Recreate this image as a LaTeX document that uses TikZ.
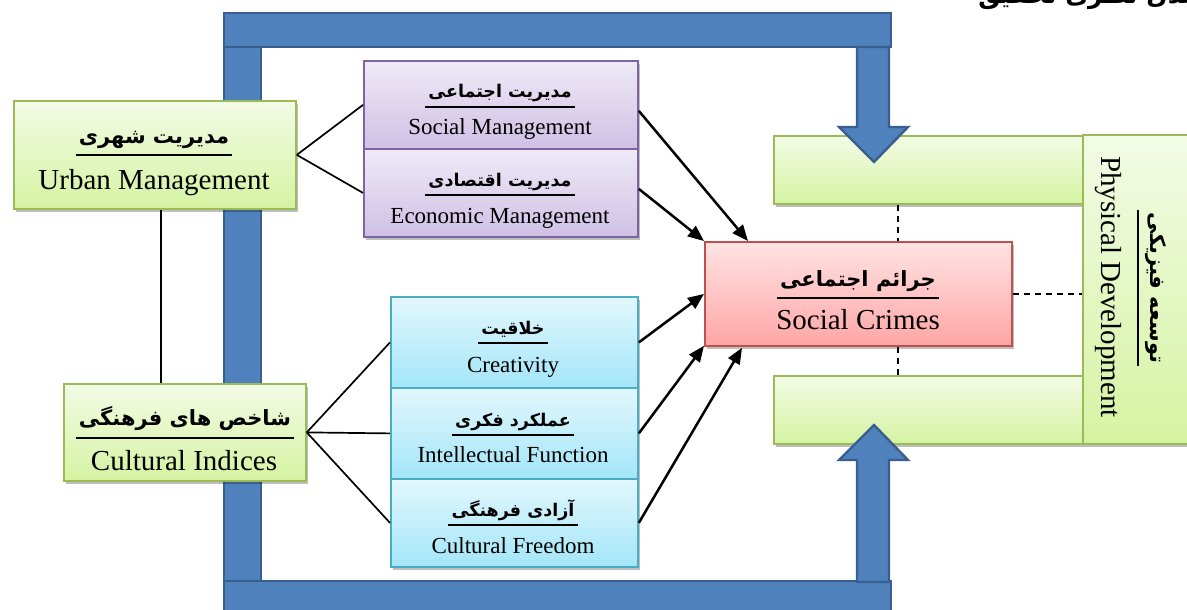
\documentclass[tikz,border=0pt]{standalone}
\usepackage{fontspec}
\setmainfont{Liberation Serif}
\newfontfamily\arabicfont[Script=Arabic]{DejaVu Sans}
\TeXXeTstate=1
\usetikzlibrary{shadows,arrows.meta}
\newcommand{\fatxt}[1]{{\arabicfont\bfseries\beginR #1\endR}}
\definecolor{grB}{HTML}{9BBB59}
\definecolor{grT}{HTML}{F3FBE6}
\definecolor{grBt}{HTML}{D5F3A2}
\definecolor{puB}{HTML}{8064A2}
\definecolor{puT}{HTML}{EFEAF7}
\definecolor{puBt}{HTML}{CFC0E5}
\definecolor{cyB}{HTML}{4BACC6}
\definecolor{cyT}{HTML}{E2F7FD}
\definecolor{cyBt}{HTML}{A3E6F8}
\definecolor{rdB}{HTML}{C0504D}
\definecolor{rdT}{HTML}{FFE3E3}
\definecolor{rdBt}{HTML}{FFA6A6}
\definecolor{bl}{HTML}{4F81BD}
\definecolor{blD}{HTML}{3A5F8E}
\begin{document}
\begin{tikzpicture}[x=1pt,y=-1pt,
  shd/.style={drop shadow={shadow xshift=2.5pt,shadow yshift=-3pt,fill=black,opacity=0.25}},
  boxbase/.style={line width=1.8pt,anchor=north west,inner sep=0pt,shd},
  gbox/.style={boxbase,draw=grB,top color=grT,bottom color=grBt},
  pbox/.style={boxbase,draw=puB,top color=puT,bottom color=puBt},
  cbox/.style={boxbase,draw=cyB,top color=cyT,bottom color=cyBt},
  rbox/.style={boxbase,draw=rdB,top color=rdT,bottom color=rdBt},
  en/.style={font=\fontsize{29}{29}\selectfont,inner sep=0pt,anchor=base},
  ens/.style={font=\fontsize{23}{23}\selectfont,inner sep=0pt,anchor=base},
  fa/.style={font=\fontsize{21}{21}\selectfont,inner xsep=3pt,inner ysep=0pt,anchor=base},
  fas/.style={font=\fontsize{17.5}{17.5}\selectfont,inner xsep=3pt,inner ysep=0pt,anchor=base},
  uline/.style={line width=1.8pt},
  link/.style={line width=1.7pt},
  arr/.style={line width=2.5pt,-{Triangle[length=16pt,width=13pt]}},
  dsh/.style={line width=1.3pt,dash pattern=on 6pt off 5pt},
  bluebar/.style={fill=bl,draw=blD,line width=2.4pt,line join=miter}]
\path[use as bounding box,fill=white] (0,0) rectangle (1187,610);

% right green boxes
\node[gbox,minimum width=309pt,minimum height=68pt] (gtop) at (773,135) {};
\node[gbox,minimum width=309pt,minimum height=68pt] (gbot) at (773,375) {};
\node[gbox,minimum width=130pt,minimum height=309pt] (phys) at (1082,134) {};

% blue frame
\draw[bluebar] (224,47) rectangle (261,581);
\draw[bluebar] (224,581) rectangle (891,625);
\draw[bluebar] (224,13) rectangle (891,47);
\draw[bluebar] (857,47) -- (889,47) -- (889,127) -- (908,127) -- (874,162) -- (839,127) -- (857,127) -- cycle;
\draw[bluebar] (857,582) -- (857,460) -- (839,460) -- (874,425) -- (908,460) -- (889,460) -- (889,582) -- cycle;

% boxes
\node[gbox,minimum width=282pt,minimum height=108pt] (urban) at (13,100) {};
\node[gbox,minimum width=242pt,minimum height=97pt] (cult) at (63,383) {};
\node[pbox,minimum width=274pt,minimum height=88pt] (soc) at (363,60) {};
\node[pbox,minimum width=274pt,minimum height=88pt] (eco) at (363,148) {};
\node[cbox,minimum width=247pt,minimum height=91pt] (cre) at (390,296) {};
\node[cbox,minimum width=247pt,minimum height=91pt] (int) at (390,387) {};
\node[cbox,minimum width=247pt,minimum height=88pt] (fre) at (390,478) {};
\node[rbox,minimum width=307pt,minimum height=104pt] (crime) at (704,241) {};

% connectors
\draw[link] (urban.east) -- (soc.west);
\draw[link] (urban.east) -- (eco.west);
\draw[link] (urban.south -| 161,0) -- (cult.north -| 161,0);
\draw[link] (cult.east) -- (cre.west);
\draw[link] (cult.east) -- (int.west);
\draw[link] (cult.east) -- (fre.west);

\draw[arr] ([yshift=-6pt]soc.east) -- ([xshift=44pt]crime.north west);
\draw[arr] ([yshift=4pt]eco.east) -- (crime.north west);
\draw[arr] (cre.east) -- (crime.west);
\draw[arr] (int.east) -- ([yshift=1pt]crime.south west);
\draw[arr] (fre.east) -- ([xshift=38pt,yshift=-1pt]crime.south west);

\draw[dsh] (gtop.south -| 898,0) -- (crime.north -| 898,0);
\draw[dsh] (crime.south -| 898,0) -- (gbot.north -| 898,0);
\draw[dsh] (crime.east) -- (crime.east -| phys.west);

% texts
\node[fa] (urbanfa) at (154,143) {\fatxt{مدیریت شهری}};
\draw[uline] (urbanfa.west |- 0,155) -- (urbanfa.east |- 0,155);
\node[en] (urbanen) at (154,189) {Urban Management};

\node[fa] (cultfa) at (185,425) {\fatxt{شاخص های فرهنگی}};
\draw[uline] (cultfa.west |- 0,438) -- (cultfa.east |- 0,438);
\node[en] (culten) at (184,470) {Cultural Indices};

\node[fas] (socfa) at (500,98) {\fatxt{مدیریت اجتماعی}};
\draw[uline] (socfa.west |- 0,107) -- (socfa.east |- 0,107);
\node[ens] (socen) at (500,135) {Social Management};

\node[fas] (ecofa) at (500,186) {\fatxt{مدیریت اقتصادی}};
\draw[uline] (ecofa.west |- 0,195) -- (ecofa.east |- 0,195);
\node[ens] (ecoen) at (500,223) {Economic Management};

\node[fas] (crefa) at (513,334) {\fatxt{خلاقیت}};
\draw[uline] (crefa.west |- 0,343) -- (crefa.east |- 0,343);
\node[ens] (creen) at (513,372) {Creativity};

\node[fas] (intfa) at (513,426) {\fatxt{عملکرد فکری}};
\draw[uline] (intfa.west |- 0,435) -- (intfa.east |- 0,435);
\node[ens] (inten) at (513,462) {Intellectual Function};

\node[fas] (frefa) at (513,516) {\fatxt{آزادی فرهنگی}};
\draw[uline] (frefa.west |- 0,525) -- (frefa.east |- 0,525);
\node[ens] (freen) at (513,553) {Cultural Freedom};

\node[fa] (crimefa) at (858,286) {\fatxt{جرائم اجتماعی}};
\draw[uline] (crimefa.west |- 0,298) -- (crimefa.east |- 0,298);
\node[en] (crimeen) at (858,329) {Social Crimes};

\node[fa,rotate=-90] (physfa) at (1150,288) {\fatxt{توسعه فیزیکی}};
\draw[uline] (physfa.west -| 1138,0) -- (physfa.east -| 1138,0);
\node[en,rotate=-90] (physen) at (1101,287) {Physical Development};

\node[font=\fontsize{25}{25}\selectfont,inner sep=0pt,anchor=base east] (ttl) at (1198,4) {\fatxt{مدل نظری تحقیق}};
\end{tikzpicture}
\end{document}
